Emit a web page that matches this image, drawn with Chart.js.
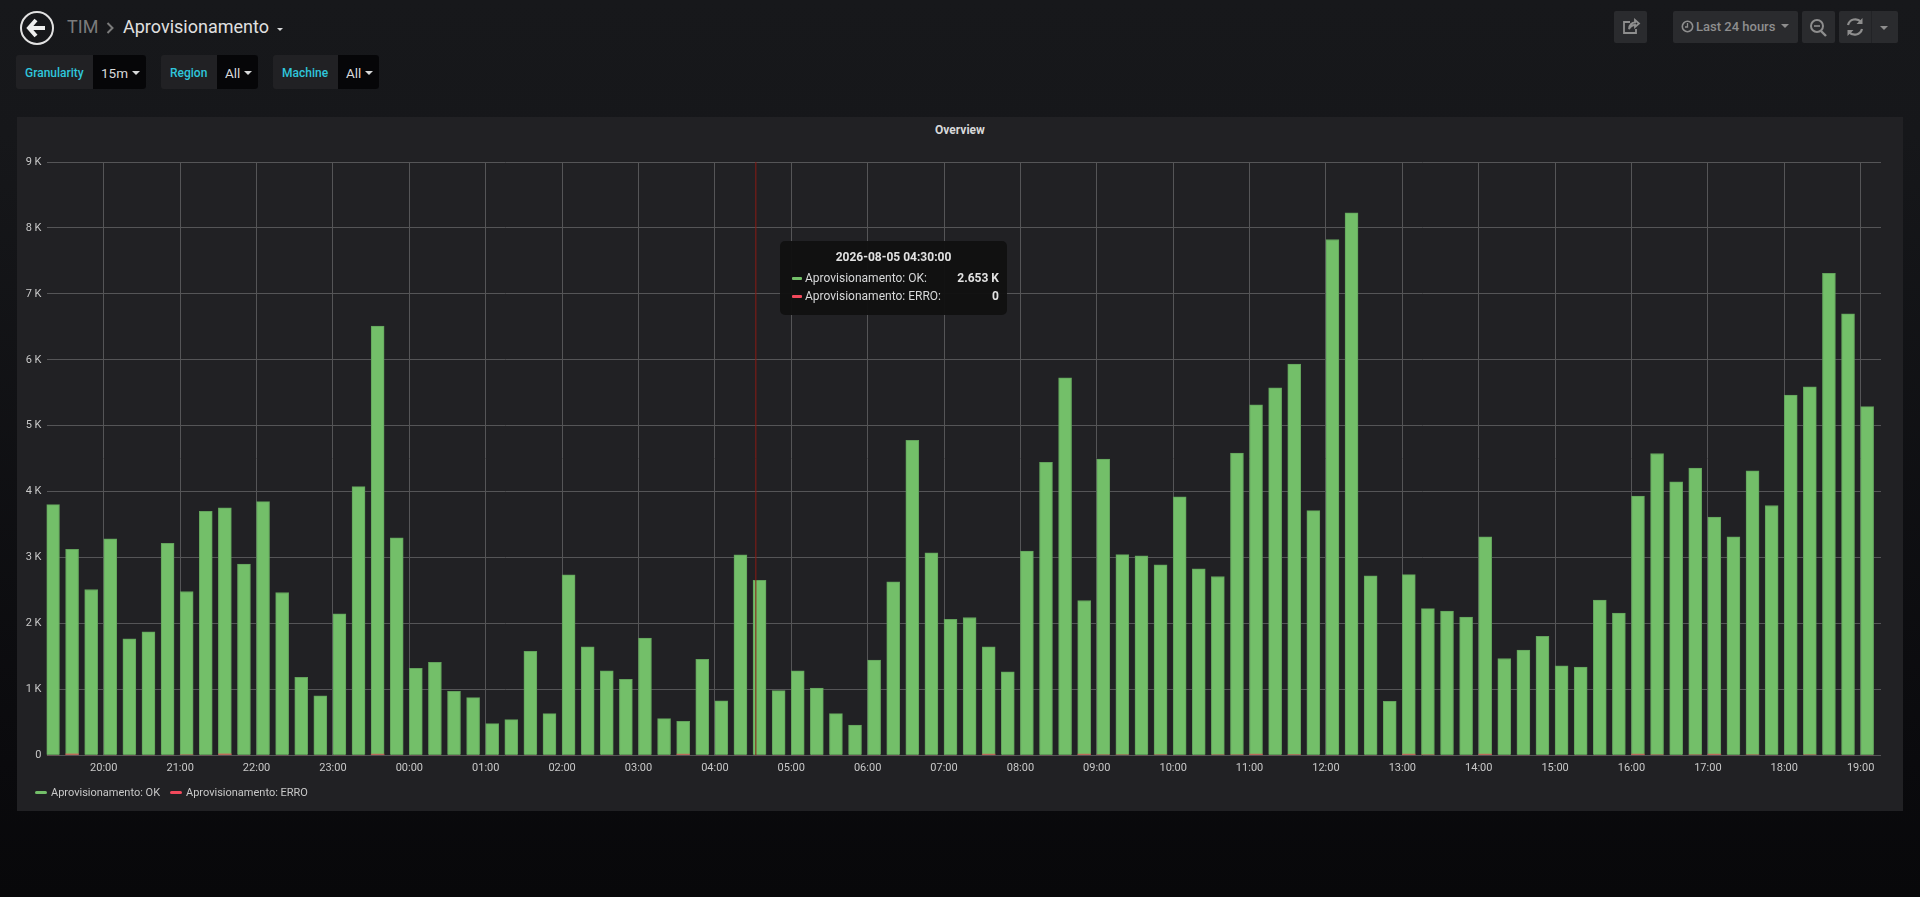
<!DOCTYPE html>
<html>
<head>
<meta charset="utf-8">
<title>Aprovisionamento</title>
<script src="https://cdn.jsdelivr.net/npm/chart.js@4/dist/chart.umd.min.js"></script>
<style>
html, body { margin: 0; height: 100%; overflow: hidden; }
body { width: 1920px; height: 897px; position: relative; font-family: Roboto, sans-serif; background: linear-gradient(#17181b 0%, #16171a 15%, #0a0a0d 85%, #08080a 100%); }
.abs { position: absolute; }
.crumb { font-size: 18px; line-height: 24px; top: 15px; white-space: nowrap; }
.filter { position: absolute; top: 55px; height: 34px; background: #212124; border-radius: 3px; overflow: hidden; }
.filter .lab { position: absolute; top: 0; left: 9px; line-height: 36px; font-size: 12px; font-weight: 500; color: #2fc6dc; white-space: nowrap; }
.filter .val { position: absolute; top: 0; bottom: 0; right: 0; background: #060608; color: #d8d9da; font-size: 13.5px; line-height: 37px; padding-left: 8px; box-sizing: border-box; white-space: nowrap; }
.caret { display: inline-block; width: 0; height: 0; border-left: 4px solid transparent; border-right: 4px solid transparent; border-top: 4px solid #d8d9da; vertical-align: 3px; margin-left: 4px; }
.btn { position: absolute; top: 11px; height: 32px; background: #2a2b2e; border-radius: 2px; color: #8e8e8e; }
#panel { position: absolute; left: 17px; top: 117px; width: 1886px; height: 694px; background: #212124; }
#chart { position: absolute; left: 0; top: 0; }
#panel-title { position: absolute; left: 0; right: 0; top: 6px; text-align: center; font-size: 12px; font-weight: 700; line-height: 14px; color: #d8d9da; }
#legend { position: absolute; left: 0; top: 667px; height: 18px; font-size: 11px; line-height: 18px; color: #c8c8c8; white-space: nowrap; }
#legend .sw { position: absolute; top: 7px; width: 12px; height: 3px; border-radius: 2px; }
#legend .tx { position: absolute; top: 0; }
#tip { position: absolute; left: 780px; top: 241px; width: 227px; height: 74px; background: rgba(17,17,17,.96); border-radius: 5px; color: #d8d9da; font-size: 12px; }
#tip .ttl { position: absolute; left: 0; right: 0; top: 8px; text-align: center; font-weight: 700; line-height: 16px; color: #e2e2e2; }
#tip .sw { position: absolute; left: 12px; width: 10px; height: 3px; border-radius: 1px; }
#tip .nm { position: absolute; left: 25px; line-height: 16px; white-space: nowrap; }
#tip .vl { position: absolute; right: 8px; line-height: 16px; font-weight: 700; color: #e2e2e2; }
</style>
</head>
<body>

<!-- top bar -->
<svg class="abs" style="left:19px;top:10px" width="36" height="36" viewBox="0 0 36 36">
  <circle cx="18" cy="18" r="16" fill="none" stroke="#e2e2e2" stroke-width="2"/>
  <path d="M17 10 L10 18 L17 26 M11 18 L26 18" fill="none" stroke="#eeeeee" stroke-width="4"/>
</svg>
<div class="abs crumb" style="left:67px;color:#7b7b7b">TIM</div>
<svg class="abs" style="left:106px;top:21px" width="9" height="14" viewBox="0 0 9 14">
  <path d="M1.5 2 L6.5 7 L1.5 12" fill="none" stroke="#7b7b7b" stroke-width="2"/>
</svg>
<div class="abs crumb" style="left:123px;color:#e0e0e0">Aprovisionamento</div>
<div class="abs" style="left:277px;top:28px;width:0;height:0;border-left:3.5px solid transparent;border-right:3.5px solid transparent;border-top:3.5px solid #d8d9da"></div>

<div class="filter" style="left:16px;width:130px"><div class="lab">Granularity</div><div class="val" style="width:53px">15m<span class="caret"></span></div></div>
<div class="filter" style="left:161px;width:97px"><div class="lab">Region</div><div class="val" style="width:41px">All<span class="caret"></span></div></div>
<div class="filter" style="left:273px;width:106px"><div class="lab">Machine</div><div class="val" style="width:41px">All<span class="caret"></span></div></div>

<div class="btn" style="left:1614px;width:33px">
  <svg width="33" height="32" viewBox="0 0 33 32"><path d="M16 11 H10 V22 H22 V18 M15 18 C15 14 18 11.5 21 11.5 V9 L25 12.5 L21 16 V14 C18.5 14 16.5 15 15 18 Z" fill="none" stroke="#8e8e8e" stroke-width="1.8"/></svg>
</div>
<div class="btn" style="left:1673px;width:125px">
  <svg class="abs" style="left:8px;top:9px" width="13" height="13" viewBox="0 0 13 13"><circle cx="6.5" cy="6.5" r="5.2" fill="none" stroke="#8e8e8e" stroke-width="1.6"/><path d="M6.5 3 V7 H4" fill="none" stroke="#8e8e8e" stroke-width="1.3"/></svg>
  <div class="abs" style="left:23px;top:0;line-height:31px;font-size:13px;font-weight:500;white-space:nowrap">Last 24 hours</div>
  <div class="abs" style="left:108px;top:13px;width:0;height:0;border-left:4px solid transparent;border-right:4px solid transparent;border-top:4px solid #8e8e8e"></div>
</div>
<div class="btn" style="left:1802px;width:33px">
  <svg width="33" height="32" viewBox="0 0 33 32"><circle cx="15" cy="15" r="6" fill="none" stroke="#8e8e8e" stroke-width="2"/><path d="M12 15 H18" stroke="#8e8e8e" stroke-width="1.6"/><path d="M19 20 L24 25" stroke="#8e8e8e" stroke-width="2.4"/></svg>
</div>
<div class="btn" style="left:1839px;width:59px">
  <svg width="32" height="32" viewBox="0 0 32 32"><path d="M9 14 A7.5 7.5 0 0 1 22 11 M23 18 A7.5 7.5 0 0 1 10 21" fill="none" stroke="#8e8e8e" stroke-width="2.2"/><path d="M23.5 7 V13 H17.5 Z M8.5 25 V19 H14.5 Z" fill="#8e8e8e"/></svg>
  <div class="abs" style="left:32px;top:0;width:1px;height:32px;background:#222326"></div>
  <div class="abs" style="left:41px;top:15px;width:0;height:0;border-left:4px solid transparent;border-right:4px solid transparent;border-top:4px solid #8e8e8e"></div>
</div>

<div id="panel">
  <div id="panel-title">Overview</div>
  <canvas id="chart" width="1886" height="694" style="width:1886px;height:694px"></canvas>
  <div id="legend"></div>
</div>
<div id="tip"></div>

<script>
const seriesNames = ['Aprovisionamento: OK', 'Aprovisionamento: ERRO'];
const seriesColors = ['#73BF69', '#F2495C'];

// one value every 15 minutes, first bar 19:15, last bar 19:00 next day
const okValues = [
    3803, 3126, 2515, 3283, 1768, 1874, 3217, 2485, 3702, 3753, 2899, 3848,
    2470, 1182, 904, 2146, 4076, 6510, 3298, 1318, 1409, 970, 874, 480,
    540, 1576, 631, 2737, 1646, 1283, 1152, 1778, 556, 515, 1455, 828,
    3040, 2653, 980, 1283, 1020, 631, 460, 1444, 2631, 4778, 3071, 2061,
    2091, 1646, 1268, 3096, 4444, 5727, 2348, 4495, 3045, 3025, 2889, 3919,
    2828, 2712, 4586, 5318, 5576, 5934, 3711, 7825, 8229, 2724, 818, 2741,
    2225, 2186, 2096, 3313, 1469, 1598, 1805, 1356, 1340, 2354, 2158, 3932,
    4578, 4148, 4357, 3615, 3313, 4316, 3789, 5463, 5591, 7312, 6697, 5289,
];
const erroValues = [
    0, 22, 0, 0, 0, 0, 0, 8, 0, 22, 0, 0,
    0, 0, 0, 0, 0, 20, 0, 0, 0, 0, 0, 0,
    0, 0, 0, 0, 0, 0, 0, 0, 0, 18, 0, 0,
    0, 0, 0, 0, 0, 0, 0, 0, 0, 0, 0, 0,
    0, 18, 0, 0, 0, 0, 18, 8, 8, 0, 8, 0,
    0, 8, 8, 18, 0, 10, 0, 0, 0, 0, 0, 18,
    8, 0, 0, 20, 0, 0, 0, 0, 0, 0, 0, 20,
    8, 0, 8, 20, 0, 8, 0, 0, 8, 0, 0, 0,
];

const hourLabels = [
    '20:00', '21:00', '22:00', '23:00', '00:00', '01:00', '02:00', '03:00',
    '04:00', '05:00', '06:00', '07:00', '08:00', '09:00', '10:00', '11:00',
    '12:00', '13:00', '14:00', '15:00', '16:00', '17:00', '18:00', '19:00',
];
const yLabels = ['0', '1 K', '2 K', '3 K', '4 K', '5 K', '6 K', '7 K', '8 K', '9 K'];

// x axis is minutes since the first hour label
const firstSlot = -45;
const slotMinutes = 15;
const lastMinute = 1396;
const barShift = 5.1; // grafana starts the bar at the timestamp, not around it
const hoverMinute = 512.2;
const hoverIndex = 37;
const hoverTime = '2026-08-05 04:30:00';

const toPoints = (values) => values.map((v, i) => ({ x: firstSlot + i * slotMinutes + barShift, y: v }));

const tickFont = { family: 'Roboto', size: 11 };

new Chart(document.getElementById('chart'), {
    type: 'bar',
    data: {
        datasets: [
            {
                type: 'line',
                label: 'hover',
                data: [{ x: hoverMinute, y: 0 }, { x: hoverMinute, y: 9000 }],
                borderColor: '#8a1a14',
                borderWidth: 1,
                pointRadius: 0,
                order: 0,
            },
            {
                label: seriesNames[1],
                data: toPoints(erroValues),
                backgroundColor: 'rgba(242,73,92,.6)',
                borderWidth: 0,
                barThickness: 13,
                grouped: false,
                order: 1,
            },
            {
                label: seriesNames[0],
                data: toPoints(okValues),
                backgroundColor: seriesColors[0],
                borderColor: '#63a35c',
                borderWidth: 1,
                barThickness: 13,
                grouped: false,
                order: 2,
            },
        ],
    },
    options: {
        responsive: false,
        animation: false,
        events: [],
        layout: { padding: { left: 0, right: 22, top: 45, bottom: 0 } },
        plugins: {
            legend: { display: false },
            tooltip: { enabled: false },
        },
        scales: {
            x: {
                type: 'linear',
                offset: false,
                min: firstSlot,
                max: lastMinute,
                afterBuildTicks: (scale) => {
                    scale.ticks = hourLabels.map((_, i) => ({ value: i * 60 }));
                },
                afterFit: (scale) => {
                    scale.height = 55.7;
                },
                ticks: {
                    autoSkip: false,
                    maxRotation: 0,
                    padding: 6,
                    color: '#c8c8c8',
                    font: tickFont,
                    callback: (value, index) => hourLabels[index],
                },
                grid: { offset: false, color: '#555557', lineWidth: 1, drawTicks: false },
                border: { display: false },
            },
            y: {
                min: 0,
                max: 9000,
                afterFit: (scale) => {
                    scale.width = 29.5;
                },
                ticks: {
                    stepSize: 1000,
                    padding: 5,
                    color: '#c8c8c8',
                    font: tickFont,
                    callback: (value, index) => yLabels[index],
                },
                grid: { color: '#555557', lineWidth: 1, drawTicks: false },
                border: { display: false },
            },
        },
    },
});

// legend, same as the html one in the dashboard
const legend = document.getElementById('legend');
const legendSpots = [[18, 34], [153, 169]];
seriesNames.forEach((name, i) => {
    legend.insertAdjacentHTML('beforeend',
        '<span class="sw" style="left:' + legendSpots[i][0] + 'px;background:' + seriesColors[i] + '"></span>' +
        '<span class="tx" style="left:' + legendSpots[i][1] + 'px">' + name + '</span>');
});

// pinned tooltip
const formatK = (v) => (v === 0 ? '0' : (v / 1000).toFixed(3) + ' K');
const tipValues = [okValues[hoverIndex], erroValues[hoverIndex]];
let tipHtml = '<div class="ttl">' + hoverTime + '</div>';
seriesNames.forEach((name, i) => {
    const top = 29 + i * 18;
    tipHtml += '<span class="sw" style="top:' + (top + 7) + 'px;background:' + seriesColors[i] + '"></span>' +
        '<span class="nm" style="top:' + top + 'px">' + name + ':</span>' +
        '<span class="vl" style="top:' + top + 'px">' + formatK(tipValues[i]) + '</span>';
});
document.getElementById('tip').innerHTML = tipHtml;
</script>
</body>
</html>
